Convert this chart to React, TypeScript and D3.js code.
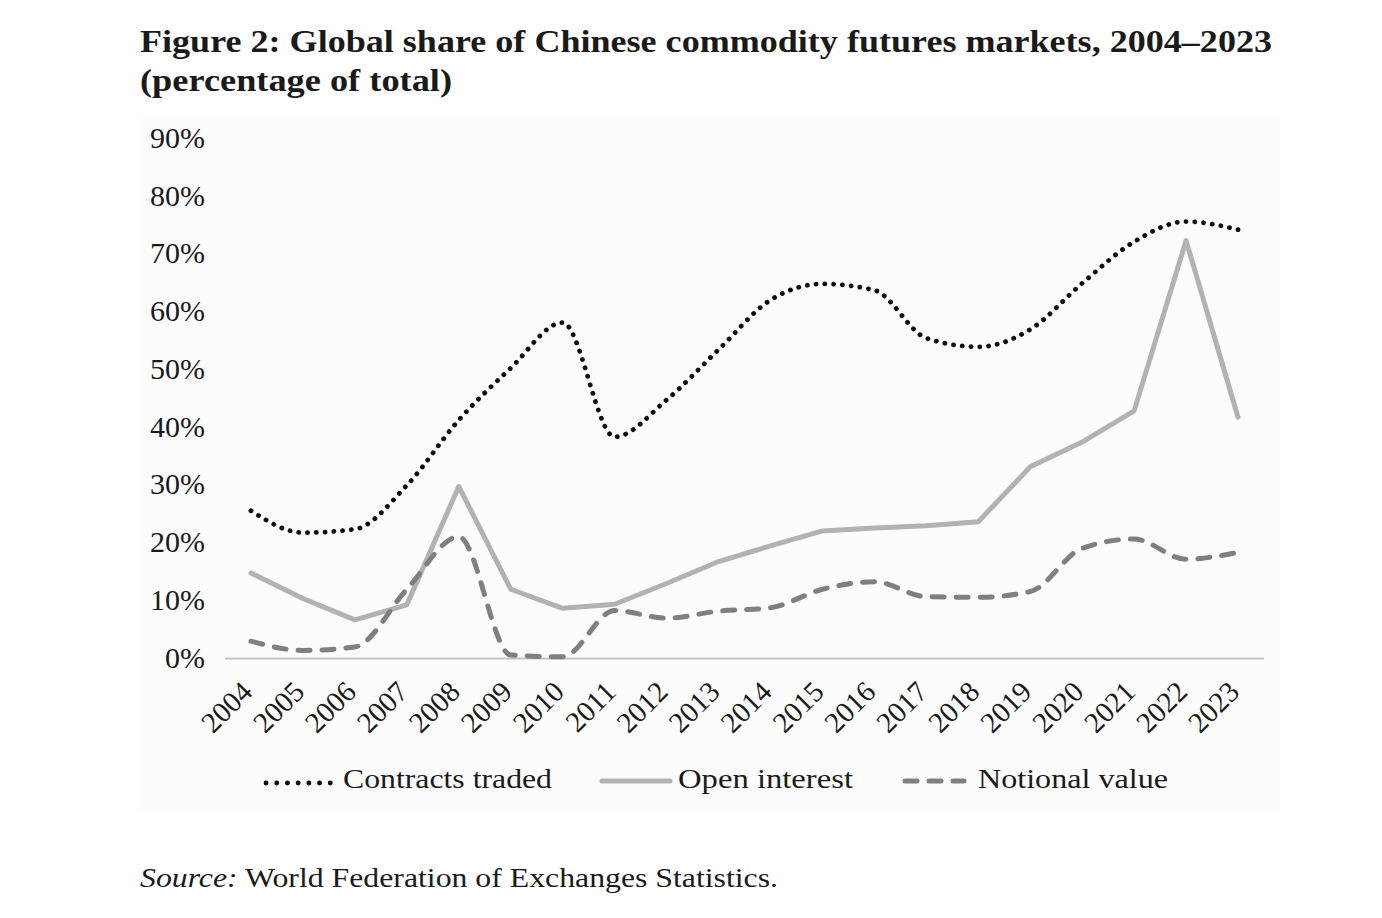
import React from "react";
import * as d3 from "d3";

const years = [
  "2004", "2005", "2006", "2007", "2008", "2009", "2010", "2011", "2012", "2013",
  "2014", "2015", "2016", "2017", "2018", "2019", "2020", "2021", "2022", "2023",
];
const contractsTraded = [25.6, 21.8, 22.4, 30.0, 41.3, 50.3, 58.2, 38.4, 44.8, 53.5, 62.1, 64.9, 63.8, 55.5, 54.0, 57.0, 65.0, 72.2, 75.7, 74.3];
const openInterest = [14.8, 10.4, 6.7, 9.3, 29.8, 12.0, 8.7, 9.4, 13.0, 16.8, 19.5, 22.1, 22.6, 23.0, 23.7, 33.2, 37.5, 42.9, 72.4, 41.8];
const notionalValue = [3.0, 1.4, 2.0, 12.0, 21.1, 0.6, 0.3, 8.3, 7.0, 8.2, 8.8, 12.0, 13.3, 10.7, 10.6, 11.6, 19.1, 20.7, 17.2, 18.4];
const yTicks = [0, 10, 20, 30, 40, 50, 60, 70, 80, 90];

const titleLine1 = "Figure 2: Global share of Chinese commodity futures markets, 2004–2023";
const titleLine2 = "(percentage of total)";
const legendLabels = ["Contracts traded", "Open interest", "Notional value"];

const FONT = "'Liberation Serif', 'Times New Roman', serif";

export default function App() {
  const x = d3.scaleBand<string>().domain(years).range([225, 1264]).padding(0);
  const cx = (yr: string) => (x(yr) as number) + x.bandwidth() / 2;
  const y = d3.scaleLinear().domain([0, 90]).range([658.5, 139]);

  const smooth = d3
    .line<number>()
    .x((_, i) => cx(years[i]))
    .y((d) => y(d))
    .curve(d3.curveMonotoneX);
  const straight = d3
    .line<number>()
    .x((_, i) => cx(years[i]))
    .y((d) => y(d));

  return (
    <svg
      width={1382}
      height={918}
      style={{ position: "absolute", left: 0, top: 0, background: "#ffffff" }}
      fontFamily={FONT}
    >
      <rect x={0} y={0} width={1382} height={918} fill="#ffffff" />
      <rect x={140} y={118} width={1140} height={694} fill="#fcfcfc" />

      {/* Title */}
      <text x={140} y={52} fontSize={31} fontWeight="bold" fill="#1a1a1a" textLength={1132} lengthAdjust="spacingAndGlyphs">
        {titleLine1}
      </text>
      <text x={140} y={91} fontSize={31} fontWeight="bold" fill="#1a1a1a" textLength={312} lengthAdjust="spacingAndGlyphs">
        {titleLine2}
      </text>

      {/* Y axis labels */}
      {yTicks.map((t) => (
        <text key={t} x={205} y={y(t) + 9} fontSize={30} textAnchor="end" fill="#1a1a1a">
          {t}%
        </text>
      ))}

      {/* X axis line */}
      <line x1={225} x2={1264} y1={y(0)} y2={y(0)} stroke="#c4c4c4" strokeWidth={2} />

      {/* X labels */}
      {years.map((yr) => (
        <text
          key={yr}
          x={0}
          y={0}
          fontSize={29}
          textAnchor="end"
          fill="#1a1a1a"
          transform={`translate(${cx(yr) + 3},${y(0) + 35}) rotate(-45)`}
        >
          {yr}
        </text>
      ))}

      {/* Series */}
      <path d={straight(openInterest) || ""} fill="none" stroke="#b2b2b2" strokeWidth={5} strokeLinejoin="round" strokeLinecap="round" />
      <path d={smooth(notionalValue) || ""} fill="none" stroke="#7f7f7f" strokeWidth={5} strokeDasharray="12 12" strokeLinecap="round" />
      <path d={smooth(contractsTraded) || ""} fill="none" stroke="#0d0d0d" strokeWidth={4.8} strokeDasharray="0.1 8.7" strokeLinecap="round" />

      {/* Legend */}
      <line x1={266} x2={331} y1={783} y2={783} stroke="#0d0d0d" strokeWidth={4.8} strokeDasharray="0.1 10.6" strokeLinecap="round" />
      <text x={343} y={788} fontSize={28} fill="#1a1a1a" textLength={209} lengthAdjust="spacingAndGlyphs">
        {legendLabels[0]}
      </text>
      <line x1={602} x2={670} y1={781} y2={781} stroke="#b2b2b2" strokeWidth={5} strokeLinecap="round" />
      <text x={678} y={788} fontSize={28} fill="#1a1a1a" textLength={175} lengthAdjust="spacingAndGlyphs">
        {legendLabels[1]}
      </text>
      <line x1={905} x2={964} y1={781} y2={781} stroke="#7f7f7f" strokeWidth={5} strokeDasharray="12 12" strokeLinecap="round" />
      <text x={978} y={788} fontSize={28} fill="#1a1a1a" textLength={190} lengthAdjust="spacingAndGlyphs">
        {legendLabels[2]}
      </text>

      {/* Source */}
      <text x={140} y={887} fontSize={28} fill="#1a1a1a" textLength={638} lengthAdjust="spacingAndGlyphs">
        <tspan fontStyle="italic">Source:</tspan>
        <tspan> World Federation of Exchanges Statistics.</tspan>
      </text>
    </svg>
  );
}
